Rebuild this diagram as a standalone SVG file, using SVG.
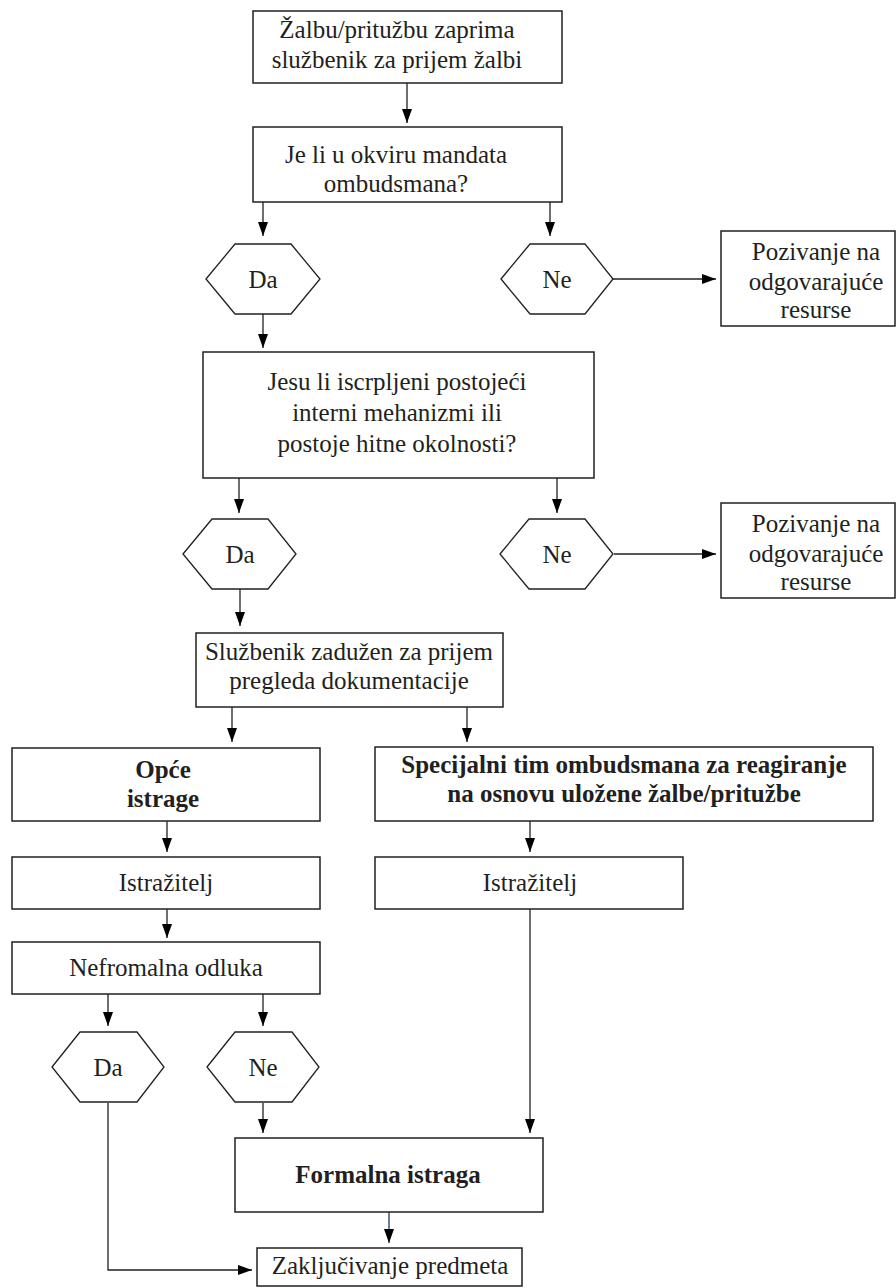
<svg xmlns="http://www.w3.org/2000/svg" width="896" height="1288" viewBox="0 0 896 1288">
<defs>
<style>
.box{fill:#fff;stroke:#231f20;stroke-width:1.5}
.hex{fill:#fff;stroke:#231f20;stroke-width:1.3}
.t{font-family:"Liberation Serif","Times New Roman",serif;font-size:25px;fill:#231f20;text-anchor:middle}
.b{font-weight:bold}
.c{fill:none;stroke:#231f20;stroke-width:1.3}
</style>
<marker id="ah" viewBox="0 0 14 10" refX="14" refY="5" markerWidth="14" markerHeight="10" orient="auto" markerUnits="userSpaceOnUse"><path d="M0,0 L14,5 L0,10 z" fill="#000"/></marker>
</defs>
<rect width="896" height="1288" fill="#fff"/>

<g id="connectors">
<path class="c" d="M407,83 V123" marker-end="url(#ah)"/>
<path class="c" d="M263,202 V236" marker-end="url(#ah)"/>
<path class="c" d="M550,202 V236" marker-end="url(#ah)"/>
<path class="c" d="M613,279 H716" marker-end="url(#ah)"/>
<path class="c" d="M263,314 V348" marker-end="url(#ah)"/>
<path class="c" d="M239,478 V513" marker-end="url(#ah)"/>
<path class="c" d="M557,478 V513" marker-end="url(#ah)"/>
<path class="c" d="M614,554 H716" marker-end="url(#ah)"/>
<path class="c" d="M240,589 V626" marker-end="url(#ah)"/>
<path class="c" d="M232,707 V742" marker-end="url(#ah)"/>
<path class="c" d="M467,707 V742" marker-end="url(#ah)"/>
<path class="c" d="M167,821 V852" marker-end="url(#ah)"/>
<path class="c" d="M167,909 V938" marker-end="url(#ah)"/>
<path class="c" d="M530,821 V852" marker-end="url(#ah)"/>
<path class="c" d="M108,994 V1026" marker-end="url(#ah)"/>
<path class="c" d="M263,994 V1026" marker-end="url(#ah)"/>
<path class="c" d="M263,1103 V1133" marker-end="url(#ah)"/>
<path class="c" d="M530,909 V1133" marker-end="url(#ah)"/>
<path class="c" d="M389,1212 V1243" style="stroke:#1f3864" marker-end="url(#ah)"/>
<path class="c" d="M108,1103 V1270 H252" marker-end="url(#ah)"/>
</g>

<g id="n1"><rect class="box" x="253" y="11" width="309" height="72"/>
<text class="t" x="397" y="38">Žalbu/pritužbu zaprima</text>
<text class="t" x="397" y="68">službenik za prijem žalbi</text></g>

<g id="n2"><rect class="box" x="253" y="127" width="309" height="75"/>
<text class="t" x="396" y="163">Je li u okviru mandata</text>
<text class="t" x="396" y="192">ombudsmana?</text></g>

<g id="n3"><path class="hex" d="M206,279 L235,244 H291 L320,279 L291,314 H235 Z"/>
<text class="t" x="263" y="288">Da</text></g>

<g id="n4"><path class="hex" d="M501,279 L530,244 H585 L613,279 L585,314 H530 Z"/>
<text class="t" x="557" y="288">Ne</text></g>

<g id="n5"><rect class="box" x="721" y="231" width="174" height="95"/>
<text class="t" x="816" y="260">Pozivanje na</text>
<text class="t" x="816" y="290">odgovarajuće</text>
<text class="t" x="816" y="318">resurse</text></g>

<g id="n6"><rect class="box" x="203" y="352" width="391" height="126"/>
<text class="t" x="397" y="390">Jesu li iscrpljeni postojeći</text>
<text class="t" x="397" y="421">interni mehanizmi ili</text>
<text class="t" x="397" y="452">postoje hitne okolnosti?</text></g>

<g id="n7"><path class="hex" d="M183,554 L212,519 H268 L296,554 L268,589 H212 Z"/>
<text class="t" x="240" y="563">Da</text></g>

<g id="n8"><path class="hex" d="M500,554 L529,519 H585 L613,554 L585,589 H529 Z"/>
<text class="t" x="557" y="563">Ne</text></g>

<g id="n9"><rect class="box" x="721" y="503" width="174" height="95"/>
<text class="t" x="816" y="532">Pozivanje na</text>
<text class="t" x="816" y="562">odgovarajuće</text>
<text class="t" x="816" y="590">resurse</text></g>

<g id="n10"><rect class="box" x="196" y="633" width="307" height="74"/>
<text class="t" x="349" y="660">Službenik zadužen za prijem</text>
<text class="t" x="349" y="689">pregleda dokumentacije</text></g>

<g id="n11"><rect class="box" x="12" y="748" width="308" height="73"/>
<text class="t b" x="163" y="778">Opće</text>
<text class="t b" x="163" y="807">istrage</text></g>

<g id="n12"><rect class="box" x="375" y="747" width="498" height="74"/>
<text class="t b" x="624" y="773">Specijalni tim ombudsmana za reagiranje</text>
<text class="t b" x="624" y="802">na osnovu uložene žalbe/pritužbe</text></g>

<g id="n13"><rect class="box" x="12" y="857" width="308" height="52"/>
<text class="t" x="166" y="891">Istražitelj</text></g>

<g id="n14"><rect class="box" x="375" y="857" width="308" height="52"/>
<text class="t" x="530" y="891">Istražitelj</text></g>

<g id="n15"><rect class="box" x="12" y="942" width="308" height="52"/>
<text class="t" x="166" y="976">Nefromalna odluka</text></g>

<g id="n16"><path class="hex" d="M52,1067 L80,1032 H137 L164,1067 L137,1102 H80 Z"/>
<text class="t" x="108" y="1076">Da</text></g>

<g id="n17"><path class="hex" d="M207,1067 L235,1032 H292 L319,1067 L292,1102 H235 Z"/>
<text class="t" x="263" y="1076">Ne</text></g>

<g id="n18"><rect class="box" x="235" y="1138" width="308" height="74"/>
<text class="t b" x="388" y="1183">Formalna istraga</text></g>

<g id="n19"><rect class="box" x="257" y="1248" width="265" height="38"/>
<text class="t" x="390" y="1274">Zaključivanje predmeta</text></g>
</svg>
